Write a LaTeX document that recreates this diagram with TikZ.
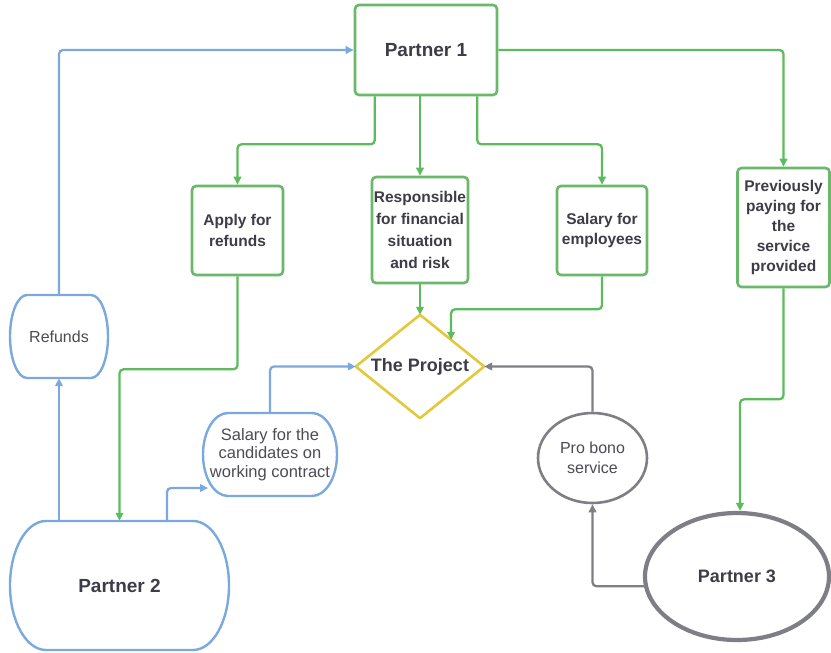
\documentclass[tikz,border=0pt]{standalone}
\usepackage{fontspec}
\setmainfont{Liberation Sans}
\usetikzlibrary{arrows.meta,calc,shapes.geometric}
\definecolor{gc}{HTML}{6AB86A}
\definecolor{gl}{HTML}{5CBB5C}
\definecolor{bc}{HTML}{7BA9DD}
\definecolor{yc}{HTML}{E3C93A}
\definecolor{kc}{HTML}{7E7E86}
\definecolor{txt}{HTML}{3D3D47}
\definecolor{txtl}{HTML}{4C4C52}
\newcommand\bulgebox[6]{%
 \pgfmathsetmacro\bxa{#2+#6}\pgfmathsetmacro\bxb{#4-#6}%
 \pgfmathsetmacro\bym{(#3+#5)/2}\pgfmathsetmacro\bk{0.5523*(#5-#3)/2}%
 \pgfmathsetmacro\bka{0.5523*#6}%
 \draw[#1] (\bxa,#3) -- (\bxb,#3) .. controls ({\bxb+\bka},#3) and (#4,{\bym-\bk}) .. (#4,\bym)
   .. controls (#4,{\bym+\bk}) and ({\bxb+\bka},#5) .. (\bxb,#5) -- (\bxa,#5)
   .. controls ({\bxa-\bka},#5) and (#2,{\bym+\bk}) .. (#2,\bym)
   .. controls (#2,{\bym-\bk}) and ({\bxa-\bka},#3) .. (\bxa,#3) -- cycle;}
\begin{document}
\begin{tikzpicture}[x=1pt,y=-1pt,
  gbox/.style={draw=gc, line width=2.6pt, rounded corners=4pt, fill=white, align=center,
    font=\bfseries\fontsize{15.5}{20.5}\selectfont, text=txt, inner sep=0pt},
  ghost/.style={inner sep=0pt, align=center, text=txtl},
  tip/.style={-{Triangle[length=8pt,width=7.5pt]}},
  gline/.style={draw=gl, line width=2.3pt, rounded corners=4pt, tip},
  bline/.style={draw=bc, line width=2.3pt, rounded corners=4pt, tip},
  kline/.style={draw=kc, line width=2.3pt, rounded corners=4pt, tip},
  bshape/.style={draw=bc, line width=2.4pt, fill=white},
  ]
\useasboundingbox (0,0) rectangle (831,653);
% shapes drawn directly
\bulgebox{bshape}{10}{295}{108}{378}{17}
\bulgebox{bshape}{203}{413}{337}{496}{25}
\bulgebox{bshape}{10}{521}{229}{650}{36}
% nodes
\node[gbox, minimum width=142pt, minimum height=90pt, font=\bfseries\fontsize{19}{22}\selectfont] (p1) at (426,50) {Partner 1};
\node[gbox, minimum width=91pt, minimum height=89pt] (apply) at (237.5,230.5) {Apply for\\refunds};
\node[gbox, minimum width=96pt, minimum height=106pt, font=\bfseries\fontsize{15.5}{22}\selectfont] (resp) at (420,230) {Responsible\\for financial\\situation\\and risk};
\node[gbox, minimum width=90pt, minimum height=89pt] (salemp) at (602,230.5) {Salary for\\employees};
\node[gbox, minimum width=92pt, minimum height=119pt, font=\bfseries\fontsize{15.5}{20}\selectfont] (prev) at (783.5,227.5) {Previously\\paying for\\the\\service\\provided};
\node[ghost, minimum width=128pt, minimum height=103pt] (proj) at (420,366.5) {};
\draw[draw=yc, line width=2.6pt, fill=white, line join=round] (proj.north) -- (proj.east) -- (proj.south) -- (proj.west) -- cycle;
\node[ghost, text=txt, font=\bfseries\fontsize{18}{21}\selectfont] (projtext) at (proj.center) {The Project};
\node[ghost, minimum width=98pt, minimum height=83pt, font=\fontsize{16}{19}\selectfont] (refunds) at (59,336.5) {Refunds};
\node[ghost, minimum width=134pt, minimum height=83pt, font=\fontsize{16.5}{18.5}\selectfont] (salc) at (270,454.5) {Salary for the\\candidates on\\working contract};
\node[ghost, minimum width=219pt, minimum height=129pt, text=txt, font=\bfseries\fontsize{19}{22}\selectfont] (p2) at (119.5,585.5) {Partner 2};
\node[ellipse, draw=kc, line width=2.6pt, fill=white, minimum width=109pt, minimum height=90pt, inner sep=0pt, align=center, text=txtl, font=\fontsize{16}{20}\selectfont] (probono) at (592.5,458) {Pro bono\\service};
\node[ellipse, draw=kc, line width=4.2pt, fill=white, minimum width=184pt, minimum height=127pt, inner sep=0pt, text=txt, font=\bfseries\fontsize{18}{21}\selectfont] (p3) at (737,576.5) {Partner 3};
\coordinate (salcin) at (208,488);
\coordinate (projne) at ($(proj.north)!0.484!(proj.east)$);
% connectors
\draw[bline] (refunds.north) |- (p1.west);
\draw[bline] (refunds.south |- p2.north) -- (refunds.south);
\draw[gline] ($(p1.south west)+(21,0)$) -- ++(0,48) -| (apply.north);
\draw[gline] (resp.north |- p1.south) -- (resp.north);
\draw[gline] ($(p1.south east)+(-21,0)$) -- ++(0,48) -| (salemp.north);
\draw[gline] (p1.east) -| (prev.north);
\draw[gline] (apply.south) -- ++(0,93) -| (p2.north);
\draw[gline] (resp.south) -- (proj.north);
\draw[gline] (salemp.south) -- ++(0,33) -| (projne);
\draw[gline] (prev.south) -- ++(0,111) -| ($(p3.north)+(3,0)$);
\draw[bline] (salc.north) |- (proj.west);
\draw[bline] ($(p2.north)+(47.5,0)$) |- (salcin);
\draw[kline] (probono.north) |- (proj.east);
\draw[kline] (p3.186) -| (probono.south);
\end{tikzpicture}
\end{document}
